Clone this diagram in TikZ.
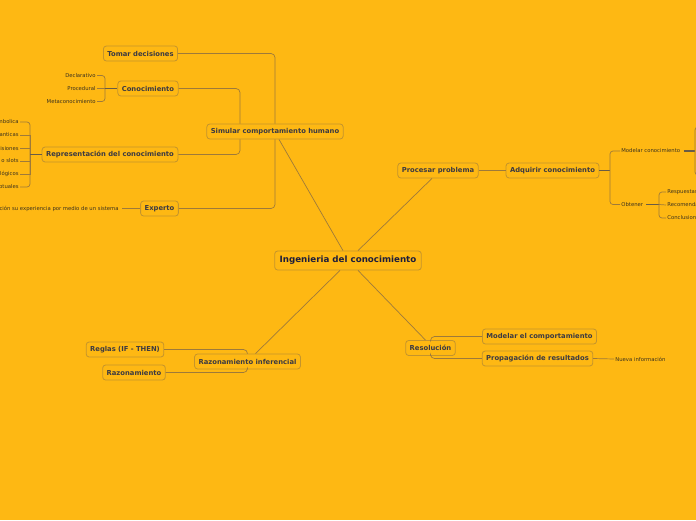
\documentclass[tikz,border=0pt]{standalone}
\usepackage{fontspec}
\setmainfont{DejaVu Sans}
\begin{document}
\definecolor{bg}{RGB}{254,184,19}
\definecolor{nborder}{RGB}{196,148,44}
\definecolor{conn}{RGB}{158,122,58}
\definecolor{dark}{RGB}{105,92,70}
\definecolor{ntext}{RGB}{60,58,66}
\definecolor{ctext}{RGB}{30,30,60}
\definecolor{ltext}{RGB}{60,50,30}
\tikzset{
  topic/.style={draw=nborder, fill=bg, line width=0.8pt, rounded corners=3pt, minimum height=15pt, inner xsep=4pt, inner ysep=0pt, text=ntext, font=\fontsize{6.8}{8}\selectfont\bfseries},
  central/.style={topic, minimum height=19pt, inner xsep=5pt, text=ctext, font=\fontsize{8.7}{10}\selectfont\bfseries},
  leaf/.style={inner sep=1.2pt, text=ltext, font=\fontsize{5.3}{6.5}\selectfont},
  link/.style={draw=conn, line width=0.7pt, rounded corners=4pt},
  heavy/.style={draw=dark, line width=1.4pt},
}
\begin{tikzpicture}[x=1pt,y=-1pt]
\useasboundingbox (0,0) rectangle (696,520);
\fill[bg] (0,0) rectangle (696,520);

% main nodes
\node[central] (ing) at (348,260.5) {Ingenieria del conocimiento};
\node[topic] (sim) at (275,131.5) {Simular comportamiento humano};
\node[topic] (tom) at (140.5,53.5) {Tomar decisiones};
\node[topic] (con) at (148,88.5) {Conocimiento};
\node[topic] (rep) at (110,154.5) {Representación del conocimiento};
\node[topic] (exp) at (159.5,208.5) {Experto};
\node[topic] (pro) at (438,170.5) {Procesar problema};
\node[topic] (adq) at (552.5,170.5) {Adquirir conocimiento};
\node[topic] (res) at (430.5,348) {Resolución};
\node[topic] (mod) at (539.5,336.5) {Modelar el comportamiento};
\node[topic] (prp) at (537.5,358.5) {Propagación de resultados};
\node[topic] (raz) at (247.5,361.5) {Razonamiento inferencial};
\node[topic] (reg) at (125,349.5) {Reglas (IF - THEN)};
\node[topic] (rzn) at (134,372.5) {Razonamiento};

% main connectors
\coordinate (i1) at ([xshift=-5pt]ing.north);
\draw[link] (i1) -- ([xshift=4pt]sim.south);
\coordinate (i2) at ([xshift=10pt]ing.north);
\draw[link] (i2) -- ([xshift=-6pt]pro.south);
\coordinate (i3) at ([xshift=-8pt]ing.south);
\draw[link] (i3) -- ([xshift=8pt]raz.north);
\coordinate (i4) at ([xshift=10pt]ing.south);
\draw[link] (i4) -- ([xshift=-5pt]res.north);

% Simular children
\draw[link] (tom.east) -| (sim.north);
\draw[link] (exp.east) -| (sim.south);
\draw[link] (con.east) -| ([xshift=-35pt]sim.north);
\draw[link] (rep.east) -| ([xshift=-35pt]sim.south);

% Conocimiento leaves
\node[leaf, anchor=east] (dec) at (97,75.5) {Declarativo};
\node[leaf, anchor=east] (prc) at (97,88.5) {Procedural};
\node[leaf, anchor=east] (met) at (97,101.5) {Metaconocimiento};
\coordinate (bk1) at (105,88.5);
\draw[link, rounded corners=3pt] (dec.east) -| (bk1) |- (met.east);
\draw[link] (prc.east) -- (bk1);
\draw[heavy] (bk1) -- (con.west);

% Representacion leaves
\node[leaf, anchor=east] (r1) at (20,122) {Lógica simbolica};
\node[leaf, anchor=east] (r2) at (20,135) {Redes semanticas};
\node[leaf, anchor=east] (r3) at (20,148) {Árboles de decisiones};
\node[leaf, anchor=east] (r4) at (20,161) {Marcos o slots};
\node[leaf, anchor=east] (r5) at (20,174) {Modelos ontológicos};
\node[leaf, anchor=east] (r6) at (20,187) {Mapas conceptuales};
\coordinate (bk2) at (30,154.5);
\draw[link, rounded corners=3pt] (r1.east) -| (bk2) |- (r6.east);
\draw[link, rounded corners=0pt] (r2.east) -| (bk2);
\draw[link, rounded corners=0pt] (r3.east) -| (bk2);
\draw[link, rounded corners=0pt] (r4.east) -| (bk2);
\draw[link, rounded corners=0pt] (r5.east) -| (bk2);
\draw[heavy] (bk2) -- (rep.west);

% Experto leaf
\node[leaf, anchor=east] (e1) at (120,208.5) {Comparte con la organización su experiencia por medio de un sistema};
\coordinate (e1b) at ([xshift=2pt]e1.east);
\draw[link] (e1b) -- (exp.west);

% Procesar -> Adquirir
\draw[link] (pro.east) -- (adq.west);

% Adquirir leaves
\node[leaf, anchor=west] (mc) at (620,151) {Modelar conocimiento};
\node[leaf, anchor=west] (ob) at (620,204.5) {Obtener};
\coordinate (bk3) at (610,170.5);
\draw[heavy] (adq.east) -- (bk3);
\draw[link, rounded corners=3pt] (mc.west) -| (bk3) |- (ob.west);

% Modelar conocimiento bracket (children off page)
\coordinate (bk4) at (695,151);
\coordinate (m1) at (705,127);
\coordinate (m2) at (705,175);
\draw[heavy] ([xshift=2pt]mc.east) -- (bk4);
\draw[link, rounded corners=3pt] (m1) -| (bk4) |- (m2);

% Obtener leaves
\node[leaf, anchor=west] (o1) at (666,192) {Respuestas};
\node[leaf, anchor=west] (o2) at (666,205) {Recomendaciones};
\node[leaf, anchor=west] (o3) at (666,218) {Conclusiones};
\coordinate (bk5) at (659,204.5);
\draw[heavy] ([xshift=2pt]ob.east) -- (bk5);
\draw[link, rounded corners=3pt] (o1.west) -| (bk5) |- (o3.west);
\draw[link, rounded corners=0pt] (o2.west) -- (bk5);

% Resolucion children
\draw[link] (res.north) |- (mod.west);
\draw[link] (res.south) |- (prp.west);
\node[leaf, anchor=west] (nue) at (614,359) {Nueva información};
\draw[link] (prp.east) -- (nue.west);

% Razonamiento inferencial children
\draw[link] (reg.east) -| (raz.north);
\draw[link] (rzn.east) -| (raz.south);

\end{tikzpicture}
\end{document}
